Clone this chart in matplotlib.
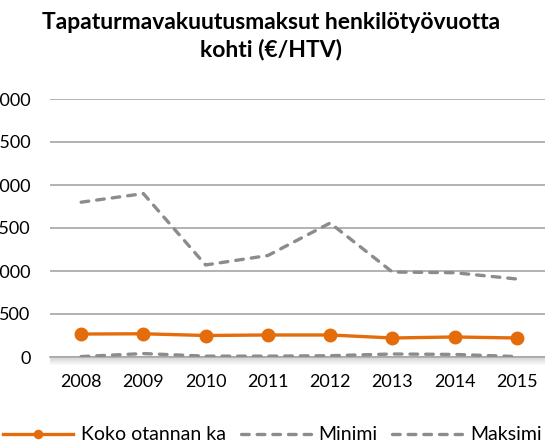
import numpy as np
import matplotlib.pyplot as plt
from matplotlib.patches import Rectangle

# data
years = ["2008", "2009", "2010", "2011", "2012", "2013", "2014", "2015"]
koko_ka = [267, 270, 250, 256, 256, 221, 233, 221]
minimi = [5, 40, 10, 10, 15, 35, 30, 5]
maksimi = [1800, 1900, 1070, 1180, 1558, 988, 980, 907]

plt.rcParams['font.family'] = ['Lato', 'DejaVu Sans']

fig = plt.figure(figsize=(5.45, 4.46), dpi=100)
ax = fig.add_axes([50 / 545, 1 - 357 / 446, 498 / 545, 258 / 446])

x = np.arange(len(years))
orange = '#E46C0A'
gray = '#8C8C8C'
dash = (0, (2.3, 2.4))

ax.plot(x, koko_ka, color=orange, lw=2.4, marker='o', ms=9,
        label='Koko otannan ka', zorder=4)
ax.plot(x, minimi, color=gray, lw=2.4, ls=dash, dash_capstyle='round',
        label='Minimi', zorder=3)
ax.plot(x, maksimi, color=gray, lw=2.4, ls=dash, dash_capstyle='round',
        label='Maksimi', zorder=3)

ax.set_xlim(-0.5, 7.5)
ax.set_ylim(0, 3000)
ax.set_yticks(np.arange(0, 3001, 500))
ax.set_xticks(x)
ax.set_xticklabels(years)
ax.yaxis.grid(True, color='#A6A6A6', lw=1.2)
ax.set_axisbelow(True)
for s in ['top', 'right', 'left']:
    ax.spines[s].set_visible(False)
ax.spines['bottom'].set_color('#A6A6A6')
ax.spines['bottom'].set_linewidth(1.2)
ax.tick_params(axis='both', length=0, labelsize=13, colors='#000000')
ax.tick_params(axis='y', pad=14)
ax.tick_params(axis='x', pad=12)

# soft shadow under the plot area
for i in range(8):
    fig.patches.append(Rectangle((50 / 545, 1 - (358 + i) / 446), 498 / 545, 1 / 446,
                                 transform=fig.transFigure, color='#B0B0B0',
                                 alpha=0.55 * (1 - i / 8), lw=0, zorder=0))

fig.text(0.497, 1 - 12 / 446, 'Tapaturmavakuutusmaksut henkilötyövuotta\nkohti (€/HTV)',
         ha='center', va='top', fontsize=16.5, fontweight='bold',
         linespacing=1.3)

leg = fig.legend(loc='center', bbox_to_anchor=(0.5, 1 - 435 / 446),
                 ncol=3, frameon=False, fontsize=14, handlelength=3.6,
                 columnspacing=0.75, handletextpad=0.4, markerscale=0.65,
                 borderaxespad=0, borderpad=0)

fig.savefig('out.png', dpi=100)
